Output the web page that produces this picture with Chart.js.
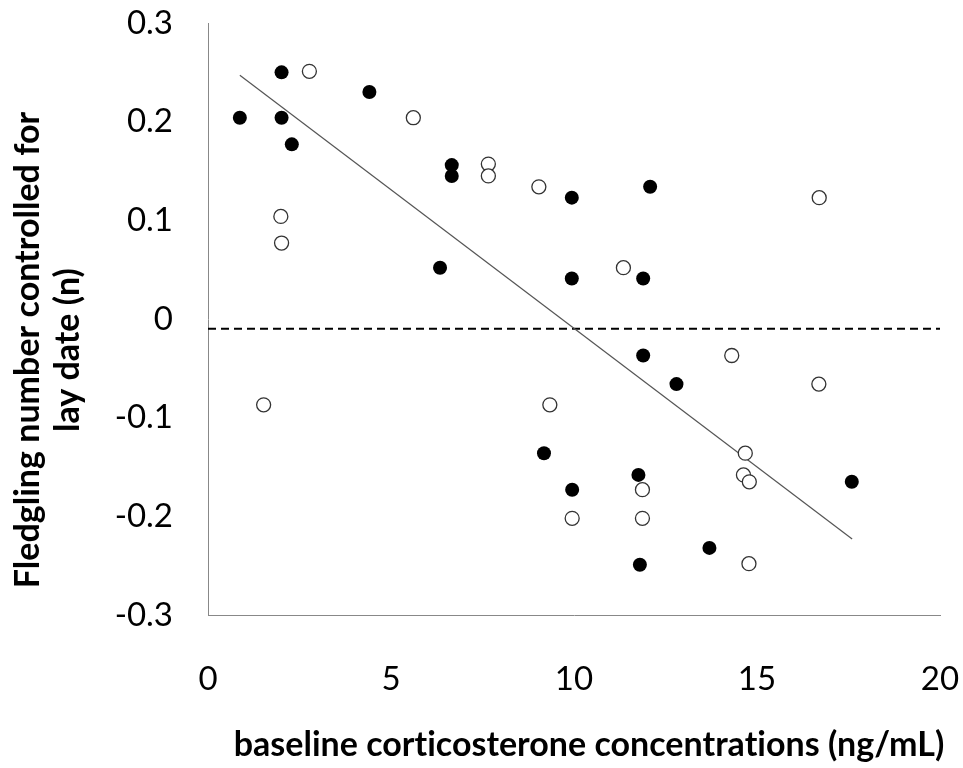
<!DOCTYPE html>
<html>
<head>
<meta charset="utf-8">
<script src="https://cdn.jsdelivr.net/npm/chart.js@4.4.0/dist/chart.umd.min.js"></script>
<style>
  html, body { margin: 0; padding: 0; background: #fff; }
  #wrap { width: 963px; height: 768px; }
</style>
</head>
<body>
<div id="wrap"><canvas id="chart" width="963" height="768"></canvas></div>
<script>
// filled circles (x = corticosterone ng/mL, y = residual fledgling number)
const filledX = [0.87, 2.01, 2.01, 2.29, 4.41, 6.66, 6.66, 6.34, 9.94, 12.08, 9.94, 11.89,
  11.89, 12.80, 9.18, 11.76, 17.59, 9.95, 13.70, 11.80];
const filledY = [0.204, 0.250, 0.204, 0.177, 0.230, 0.156, 0.145, 0.052, 0.123, 0.134, 0.041, 0.041,
  -0.037, -0.066, -0.136, -0.158, -0.165, -0.173, -0.232, -0.249];

// open circles
const openX = [2.77, 5.61, 1.99, 2.01, 7.66, 7.66, 9.04, 16.70, 11.35, 1.52,
  14.31, 16.69, 9.34, 14.68, 14.63, 14.79, 11.87, 9.95, 11.87, 14.78];
const openY = [0.251, 0.204, 0.104, 0.077, 0.157, 0.145, 0.134, 0.123, 0.052, -0.087,
  -0.037, -0.066, -0.087, -0.136, -0.158, -0.165, -0.173, -0.202, -0.202, -0.248];

// regression line end points and dashed reference line
const trendX = [0.87, 17.6];
const trendY = [0.247, -0.223];
const refX = [0, 20];
const refY = [-0.01, -0.01];

const xTicks = [0, 5, 10, 15, 20];
const yTicks = [-0.3, -0.2, -0.1, 0, 0.1, 0.2, 0.3];

const xTitle = "baseline corticosterone concentrations (ng/mL)";
const yTitle = ["Fledgling number controlled for", "lay date (n)"];

const pts = (xs, ys) => xs.map((x, i) => ({ x: x, y: ys[i] }));

const FONT = "Lato, 'Open Sans', sans-serif";

// axis titles drawn by hand so they can sit where the original has them
const axisTitles = {
  id: "axisTitles",
  afterDraw(chart) {
    const ctx = chart.ctx;
    ctx.save();
    ctx.fillStyle = "#000";
    ctx.font = "bold 34px " + FONT;
    ctx.letterSpacing = "0.01px"; // stops the "ti" ligature
    ctx.textAlign = "center";
    ctx.textBaseline = "middle";
    ctx.fillText(xTitle, 589, 745);
    ctx.translate(0, 350);
    ctx.rotate(-Math.PI / 2);
    yTitle.forEach((line, i) => ctx.fillText(line, 0, 28 + i * 40));
    ctx.restore();
  },
};

new Chart(document.getElementById("chart"), {
  type: "scatter",
  data: {
    datasets: [
      {
        type: "line",
        data: pts(refX, refY),
        borderColor: "#000",
        borderWidth: 2,
        borderDash: [8, 5],
        pointRadius: 0,
        order: 4,
      },
      {
        type: "line",
        data: pts(trendX, trendY),
        borderColor: "#555",
        borderWidth: 1.2,
        pointRadius: 0,
        order: 3,
      },
      {
        data: pts(openX, openY),
        backgroundColor: "#fff",
        borderColor: "#333",
        borderWidth: 1.3,
        pointRadius: 7,
        order: 2,
      },
      {
        data: pts(filledX, filledY),
        backgroundColor: "#000",
        borderColor: "#000",
        borderWidth: 0,
        pointRadius: 7,
        order: 1,
      },
    ],
  },
  options: {
    responsive: false,
    animation: false,
    layout: { padding: { top: 23, right: 23, left: 0, bottom: 0 } },
    plugins: { legend: { display: false }, tooltip: { enabled: false } },
    scales: {
      x: {
        type: "linear",
        min: 0,
        max: 20,
        afterBuildTicks: (s) => { s.ticks = xTicks.map((v) => ({ value: v })); },
        afterFit: (s) => { s.height = 153; s.paddingLeft = 0; s.paddingRight = 0; },
        grid: { display: false, drawTicks: false },
        border: { display: true, color: "#888", width: 1 },
        ticks: { color: "#000", padding: 45, font: { family: FONT, size: 33 } },
      },
      y: {
        type: "linear",
        min: -0.3,
        max: 0.3,
        afterBuildTicks: (s) => { s.ticks = yTicks.map((v) => ({ value: v })); },
        afterFit: (s) => { s.width = 208; s.paddingTop = 0; s.paddingBottom = 0; },
        grid: { display: false, drawTicks: false },
        border: { display: true, color: "#888", width: 1 },
        ticks: {
          color: "#000",
          padding: 35,
          font: { family: FONT, size: 33 },
          callback: (v) => String(Math.round(v * 10) / 10),
        },
      },
    },
  },
  plugins: [axisTitles],
});
</script>
</body>
</html>
